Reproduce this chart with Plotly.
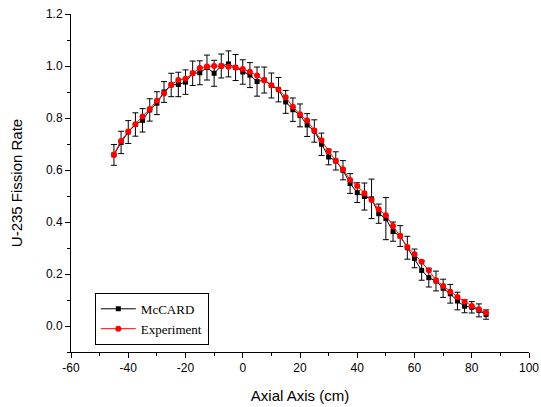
import plotly.graph_objects as go

axial_cm = [-45 + 2.5 * i for i in range(53)]

mccard = [0.658, 0.706, 0.746, 0.775, 0.791, 0.831, 0.857, 0.900, 0.927, 0.929,
          0.938, 0.972, 0.974, 0.994, 0.972, 1.000, 1.008, 0.994, 0.977, 0.965,
          0.940, 0.946, 0.925, 0.909, 0.862, 0.832, 0.810, 0.773, 0.750, 0.699,
          0.650, 0.635, 0.599, 0.548, 0.513, 0.498, 0.489, 0.432, 0.413, 0.363,
          0.346, 0.301, 0.260, 0.214, 0.186, 0.173, 0.145, 0.124, 0.096, 0.076,
          0.072, 0.060, 0.044]

mccard_err = [0.040, 0.043, 0.044, 0.045, 0.045, 0.043, 0.044, 0.040, 0.045, 0.047,
              0.047, 0.047, 0.046, 0.048, 0.050, 0.046, 0.050, 0.050, 0.047, 0.048,
              0.056, 0.050, 0.048, 0.047, 0.044, 0.045, 0.044, 0.044, 0.043, 0.043,
              0.030, 0.035, 0.037, 0.038, 0.038, 0.052, 0.076, 0.037, 0.081, 0.037,
              0.040, 0.044, 0.036, 0.038, 0.036, 0.038, 0.035, 0.036, 0.034, 0.025,
              0.022, 0.025, 0.018]

experiment = [0.660, 0.712, 0.748, 0.776, 0.806, 0.835, 0.866, 0.894, 0.928, 0.946,
              0.951, 0.972, 0.992, 0.998, 1.000, 1.000, 0.997, 0.994, 0.988, 0.978,
              0.963, 0.945, 0.926, 0.910, 0.880, 0.843, 0.814, 0.790, 0.752, 0.714,
              0.673, 0.635, 0.603, 0.562, 0.538, 0.511, 0.485, 0.449, 0.426, 0.385,
              0.346, 0.304, 0.276, 0.247, 0.214, 0.176, 0.154, 0.132, 0.112, 0.093,
              0.077, 0.064, 0.051]

x_tickvals = [-60, -40, -20, 0, 20, 40, 60, 80, 100]
x_ticktext = ["-60", "-40", "-20", "0", "20", "40", "60", "80", "100"]
y_tickvals = [0.0, 0.2, 0.4, 0.6, 0.8, 1.0, 1.2]
y_ticktext = ["0.0", "0.2", "0.4", "0.6", "0.8", "1.0", "1.2"]

fig = go.Figure()
fig.add_trace(go.Scatter(
    x=axial_cm, y=mccard, name="McCARD", mode="lines+markers",
    line=dict(color="black", width=1),
    marker=dict(symbol="square", size=5, color="black"),
    error_y=dict(type="data", array=mccard_err, visible=True,
                 color="black", thickness=1, width=3),
))
fig.add_trace(go.Scatter(
    x=axial_cm, y=experiment, name="Experiment", mode="lines+markers",
    line=dict(color="red", width=1),
    marker=dict(symbol="circle", size=6, color="red"),
))

axis_font = dict(family="Liberation Sans, Arial, sans-serif", size=12, color="black")
title_font = dict(family="Liberation Sans, Arial, sans-serif", size=15, color="black")
fig.update_layout(
    width=541, height=407,
    margin=dict(l=71, r=12, t=14, b=55, autoexpand=False),
    paper_bgcolor="white", plot_bgcolor="white",
    showlegend=True,
    legend=dict(x=0.052, y=0.175, xanchor="left", yanchor="top",
                bgcolor="white", bordercolor="black", borderwidth=1,
                font=dict(family="Liberation Serif, Times New Roman, serif", size=13, color="black"),
                itemwidth=35, tracegroupgap=0),
    xaxis=dict(range=[-60, 100], tickvals=x_tickvals, ticktext=x_ticktext, automargin=False,
               showgrid=False, zeroline=False, showline=True, linecolor="black", linewidth=1,
               ticks="outside", ticklen=5, tickcolor="black", tickfont=axis_font,
               minor=dict(ticks="outside", ticklen=3, dtick=10, tickcolor="black"),
               title=dict(text="Axial Axis (cm)", font=title_font, standoff=16)),
    yaxis=dict(range=[-0.1, 1.2], tickvals=y_tickvals, ticktext=y_ticktext, automargin=False,
               showgrid=False, zeroline=False, showline=True, linecolor="black", linewidth=1,
               ticks="outside", ticklen=5, tickcolor="black", tickfont=axis_font,
               minor=dict(ticks="outside", ticklen=3, tick0=-0.1, dtick=0.2, tickcolor="black"),
               title=dict(text="U-235 Fission Rate", font=title_font, standoff=19)),
)

fig.write_html("out.html", config={"displayModeBar": False},
               post_script="document.body.style.margin='0';document.body.style.overflow='hidden';")
